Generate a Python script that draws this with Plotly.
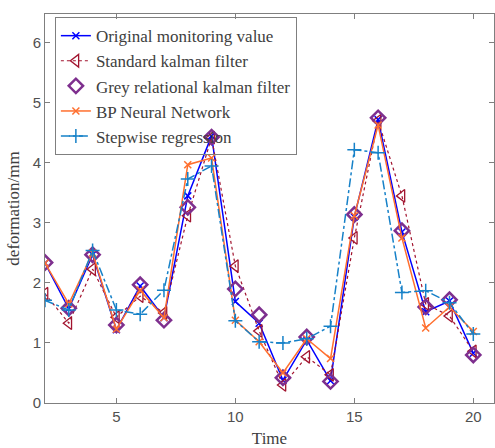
import plotly.graph_objects as go

time = list(range(2, 21))

original = [2.33, 1.57, 2.47, 1.22, 1.95, 1.42, 3.45, 4.45, 1.69, 1.33, 0.38, 1.05, 0.37, 3.10, 4.72, 2.85, 1.52, 1.70, 0.83]
standard_kf = [1.82, 1.33, 2.23, 1.43, 1.78, 1.50, 3.12, 4.42, 2.28, 1.20, 0.30, 0.77, 0.47, 2.75, 4.70, 3.45, 1.65, 1.45, 0.86]
grey_kf = [2.34, 1.58, 2.47, 1.30, 1.97, 1.38, 3.26, 4.43, 1.90, 1.47, 0.42, 1.10, 0.36, 3.14, 4.75, 2.87, 1.60, 1.72, 0.80]
bp_nn = [2.33, 1.65, 2.50, 1.23, 1.88, 1.42, 3.97, 4.08, 1.38, 1.02, 0.50, 1.07, 0.74, 3.12, 4.63, 2.75, 1.25, 1.60, 1.19]
stepwise = [1.71, 1.55, 2.54, 1.55, 1.48, 1.88, 3.73, 3.95, 1.37, 1.02, 1.00, 1.07, 1.28, 4.22, 4.17, 1.84, 1.87, 1.67, 1.15]

y_ticks = [0, 1, 2, 3, 4, 5, 6]
x_ticks = [5, 10, 15, 20]

fig = go.Figure()
fig.add_trace(go.Scatter(x=time, y=original, name="Original monitoring value", mode="lines+markers",
                         line=dict(color="#0000FF", width=1.5),
                         marker=dict(symbol="x-thin", size=7, line=dict(color="#0000FF", width=1.5))))
fig.add_trace(go.Scatter(x=time, y=standard_kf, name="Standard kalman filter", mode="lines+markers",
                         line=dict(color="#A2142F", width=1.2, dash="dot"),
                         marker=dict(symbol="triangle-left-open", size=11, color="#A2142F", line=dict(width=1.3))))
fig.add_trace(go.Scatter(x=time, y=grey_kf, name="Grey relational kalman filter", mode="markers",
                         marker=dict(symbol="diamond-open", size=11, color="#7E2F8E", line=dict(width=2.5))))
fig.add_trace(go.Scatter(x=time, y=bp_nn, name="BP Neural Network", mode="lines+markers",
                         line=dict(color="#FF6F2E", width=1.5),
                         marker=dict(symbol="x-thin", size=7, line=dict(color="#FF6F2E", width=1.5))))
fig.add_trace(go.Scatter(x=time, y=stepwise, name="Stepwise regression", mode="lines+markers",
                         line=dict(color="#1681C8", width=1.5, dash="dashdot"),
                         marker=dict(symbol="cross-thin", size=10, line=dict(color="#1681C8", width=1.5))))

axis_common = dict(showline=True, linecolor="#7F7F7F", linewidth=1, mirror="ticks",
                   ticks="inside", ticklen=5, tickcolor="#7F7F7F", showgrid=False, zeroline=False,
                   tickfont=dict(family="Liberation Sans", size=15, color="#505050"))

fig.update_xaxes(range=[2, 20.87], tickvals=x_ticks, **axis_common,
                 title=dict(text="Time", font=dict(family="Liberation Serif", size=17, color="#404040"), standoff=8))
fig.update_yaxes(range=[0, 6.48], tickvals=y_ticks, **axis_common,
                 title=dict(text="deformation/mm", font=dict(family="Liberation Serif", size=17, color="#404040"), standoff=8))

fig.update_layout(
    width=495, height=448,
    margin=dict(l=45, r=1, t=14, b=45),
    plot_bgcolor="white", paper_bgcolor="white",
    legend=dict(x=0.022, y=0.992, xanchor="left", yanchor="top",
                bordercolor="#7F7F7F", borderwidth=1, bgcolor="rgba(255,255,255,0)",
                font=dict(family="Liberation Serif", size=17, color="#404040"),
                tracegroupgap=0, itemwidth=30),
    showlegend=True,
)

fig.write_html("out.html")
